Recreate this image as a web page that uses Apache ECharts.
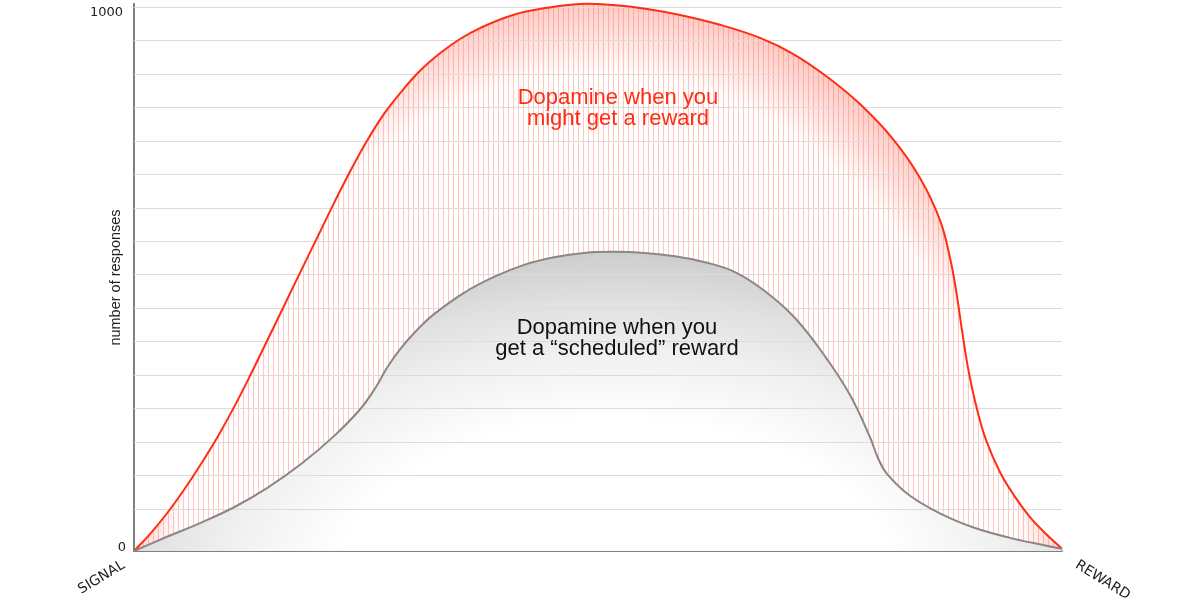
<!DOCTYPE html>
<html><head><meta charset="utf-8">
<script src="https://cdn.jsdelivr.net/npm/echarts@6/dist/echarts.min.js"></script>
<style>html,body{margin:0;padding:0;background:#fff}#c{width:1200px;height:611px}</style>
</head><body><div id="c"></div>
<script>
// ---- data ----
const xTicks = ['SIGNAL', 'REWARD'];
const yTicks = [0, 1000];
const yName = 'number of responses';

const redX = [0, 1.72, 3.56, 5.39, 7.22, 9.05, 10.78, 12.61, 14.33, 16.16, 17.99, 19.83, 21.55, 23.38, 25.11, 26.94, 28.77, 30.82, 32.97, 35.13, 37.28, 40.84, 44.5, 48.06, 51.62, 55.28, 58.84, 63.15, 67.46, 71.01, 74.68, 78.23, 81.79, 84.7, 86.85, 87.93, 88.58, 89.22, 89.87, 90.73, 91.81, 93.32, 94.94, 96.55, 98.17, 100];
const redY = [0, 31, 69, 112, 159, 210, 263, 324, 384, 448, 512, 576, 636, 697, 750, 799, 839, 878, 910, 936, 956, 980, 993, 1000, 998, 991, 980, 962, 938, 909, 867, 817, 753, 682, 605, 536, 477, 404, 335, 267, 203, 144, 99, 62, 33, 4];

const grayX = [0, 3.56, 7.11, 10.78, 14.33, 18.0, 21.55, 24.46, 26.19, 27.26, 28.77, 30.5, 32.33, 35.56, 38.79, 42.03, 45.26, 48.49, 51.72, 55.06, 58.3, 61.53, 64.76, 68.0, 71.23, 74.46, 77.16, 79.31, 80.17, 81.14, 83.62, 87.18, 90.63, 94.4, 97.95, 100];
const grayY = [0, 26, 51, 80, 115, 159, 210, 261, 303, 335, 371, 404, 433, 472, 501, 523, 537, 545, 547, 545, 539, 528, 510, 475, 426, 356, 285, 208, 170, 141, 101, 66, 42, 24, 11, 4];

const redLabel = ['Dopamine when you', 'might get a reward'];
const grayLabel = ['Dopamine when you', 'get a \u201cscheduled\u201d reward'];

// ---- styles ----
const RED = '#ff2d14';
const GRAY_LINE = '#8c8686';
const AXIS = '#808080';
const W = 1200, H = 611;
const SMOOTH = 0.4;

function ellipseGradientCanvas(cx, cy, rx, ry, stops, hatch) {
  const c = document.createElement('canvas');
  c.width = W; c.height = H;
  const g = c.getContext('2d');
  g.save();
  g.translate(cx, cy);
  g.scale(1, ry / rx);
  const grad = g.createRadialGradient(0, 0, 0, 0, 0, rx);
  stops.forEach(s => grad.addColorStop(s[0], s[1]));
  g.fillStyle = grad;
  g.fillRect(-cx - 10, -cy * rx / ry - 2000, W + 20 + 2 * cx, 6000);
  g.restore();
  if (hatch) {
    g.fillStyle = hatch.color;
    for (let x = hatch.from; x < hatch.to; x += hatch.step) g.fillRect(x, 0, 1, H);
  }
  return c;
}

const redFill = ellipseGradientCanvas(598, 620, 480, 620, [
  [0, 'rgba(255,60,40,0)'], [0.88, 'rgba(255,60,40,0)'], [1, 'rgba(255,60,40,0.28)']
], { color: 'rgba(255,80,60,0.32)', from: 138, to: 1062, step: 5 });

const grayFill = ellipseGradientCanvas(615, 590, 560, 340, [
  [0, '#ffffff'], [0.5, '#ffffff'], [0.7, '#f0f0f0'], [0.85, '#e0e0e0'], [1, '#cccccc']
], null);

// smooth curve through points mapped by the axes (api.coord)
function dist(a, b) { return Math.hypot(b[0] - a[0], b[1] - a[1]); }
function curvePath(pts, s) {
  let d = 'M' + pts[0][0] + ' ' + pts[0][1];
  for (let i = 0; i < pts.length - 1; i++) {
    const p0 = pts[i - 1] || pts[i], p1 = pts[i], p2 = pts[i + 1], p3 = pts[i + 2] || pts[i + 1];
    const dA = dist(p0, p1), dB = dist(p1, p2), dC = dist(p2, p3);
    const k1 = s * dB / ((dA + dB) || 1), k2 = s * dB / ((dB + dC) || 1);
    const c1 = [p1[0] + (p2[0] - p0[0]) * k1, p1[1] + (p2[1] - p0[1]) * k1];
    const c2 = [p2[0] - (p3[0] - p1[0]) * k2, p2[1] - (p3[1] - p1[1]) * k2];
    d += ' C' + c1[0] + ' ' + c1[1] + ' ' + c2[0] + ' ' + c2[1] + ' ' + p2[0] + ' ' + p2[1];
  }
  return d;
}
function curveSeries(xs, ys, style, closed, z) {
  return {
    type: 'custom', coordinateSystem: 'cartesian2d', xAxisIndex: 0, yAxisIndex: 0,
    data: [[xs[0], ys[0]]], silent: true, clip: false, z: z,
    renderItem: function (params, api) {
      const pts = xs.map((x, i) => api.coord([x, ys[i]]));
      let d = curvePath(pts, SMOOTH);
      if (closed) {
        const br = api.coord([xs[xs.length - 1], 0]), bl = api.coord([xs[0], 0]);
        d += ' L' + br[0] + ' ' + br[1] + ' L' + bl[0] + ' ' + bl[1] + ' Z';
      }
      return { type: 'path', shape: { pathData: d }, style: style };
    }
  };
}

const labelFont = { fontFamily: 'DejaVu Sans', fontSize: 13, color: '#222' };

const chart = echarts.init(document.getElementById('c'));
chart.setOption({
  animation: false,
  backgroundColor: '#fff',
  grid: [
    { left: 134, right: 138, top: 4, bottom: 60 },
    { left: 134, right: 138, top: 7, height: 502 }
  ],
  xAxis: [
    { gridIndex: 0, type: 'value', min: 0, max: 100, interval: 100, position: 'bottom',
      axisLine: { show: true, lineStyle: { color: AXIS, width: 2 } },
      axisTick: { show: false }, splitLine: { show: false },
      axisLabel: { rotate: 31, margin: 7, padding: [0, 12, 0, 0], fontFamily: 'DejaVu Sans', fontSize: 14, color: '#222',
        formatter: v => v === 0 ? xTicks[0] : '' } },
    { gridIndex: 0, type: 'value', min: 0, max: 100, interval: 100, position: 'bottom',
      axisLine: { show: false }, axisTick: { show: false }, splitLine: { show: false },
      axisLabel: { rotate: -32, margin: 4, padding: [0, 0, 0, 17], showMaxLabel: true,
        fontFamily: 'DejaVu Sans', fontSize: 14, color: '#222',
        formatter: v => v === 100 ? xTicks[1] : '' } },
    { gridIndex: 1, type: 'value', min: 0, max: 1, show: false }
  ],
  yAxis: [
    { gridIndex: 0, type: 'value', min: yTicks[0], max: yTicks[1], interval: yTicks[1] - yTicks[0], position: 'left',
      axisLine: { show: true, lineStyle: { color: AXIS, width: 2 } },
      axisTick: { show: false }, splitLine: { show: false },
      name: yName, nameLocation: 'middle', nameGap: 11, nameRotate: 90, nameMoveOverlap: false,
      nameTextStyle: { fontFamily: 'Liberation Sans', fontSize: 14.5, color: '#222' },
      axisLabel: Object.assign({ margin: 8,
        formatter: v => v === yTicks[1] ? '{t|' + v + '}' : '{b|' + v + '}',
        rich: { t: Object.assign({ padding: [18, 3, 0, 0] }, labelFont),
                b: Object.assign({ padding: [0, 0, 6, 0] }, labelFont) } }, labelFont) },
    { gridIndex: 0, type: 'value', min: yTicks[0], max: yTicks[1], position: 'right',
      axisLine: { show: true, lineStyle: { color: AXIS, width: 2 } },
      axisTick: { show: false }, splitLine: { show: false }, axisLabel: { show: false } },
    { gridIndex: 1, type: 'value', min: 0, max: 15, interval: 1, z: 4,
      axisLine: { show: false }, axisTick: { show: false }, axisLabel: { show: false },
      splitLine: { show: true, lineStyle: { color: '#dcdcdc', width: 1 } } }
  ],
  series: [
    curveSeries(redX, redY, { fill: { image: redFill, repeat: 'no-repeat' }, stroke: null }, true, 2),
    curveSeries(grayX, grayY, { fill: { image: grayFill, repeat: 'no-repeat' }, stroke: null }, true, 3),
    curveSeries(redX, redY, { fill: null, stroke: RED, lineWidth: 2 }, false, 6),
    curveSeries(grayX, grayY, { fill: null, stroke: GRAY_LINE, lineWidth: 2 }, false, 6)
  ],
  graphic: [
    { type: 'text', x: 618, y: 108, z: 10, silent: true,
      style: { text: redLabel.join('\n'), fill: RED, fontFamily: 'Liberation Sans', fontSize: 22,
        lineHeight: 21, align: 'center', verticalAlign: 'middle' } },
    { type: 'text', x: 617, y: 338, z: 10, silent: true,
      style: { text: grayLabel.join('\n'), fill: '#111', fontFamily: 'Liberation Sans', fontSize: 22,
        lineHeight: 21, align: 'center', verticalAlign: 'middle' } }
  ]
});
</script>
</body></html>
